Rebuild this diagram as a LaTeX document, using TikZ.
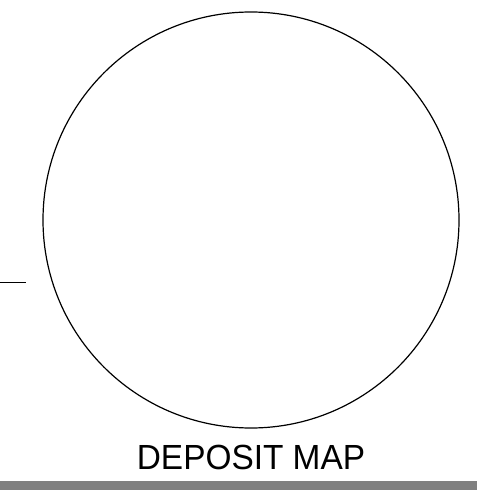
\documentclass[tikz,border=0pt]{standalone}
\usepackage{fontspec}
\setmainfont{Liberation Sans}
\definecolor{bargray}{HTML}{808080}
\begin{document}
\begin{tikzpicture}[x=1bp,y=-1bp,
  outline/.style={draw=black,line width=1.2bp},
  title/.style={inner sep=0pt,anchor=base,font=\fontsize{34.9bp}{40bp}\selectfont}]
\useasboundingbox (0,0) rectangle (477,495);
\node[outline,circle,minimum size=416bp,inner sep=0pt] (map) at (251,220) {};
\coordinate (l0) at (0,282);
\coordinate (l1) at (26,282);
\draw[line width=1bp] (l0) -- (l1);
\node[title] (label) at (251,469) {\scalebox{0.957}[1]{DEPOSIT MAP}};
\fill[bargray] (0,481) rectangle (477,490);
\end{tikzpicture}
\end{document}
